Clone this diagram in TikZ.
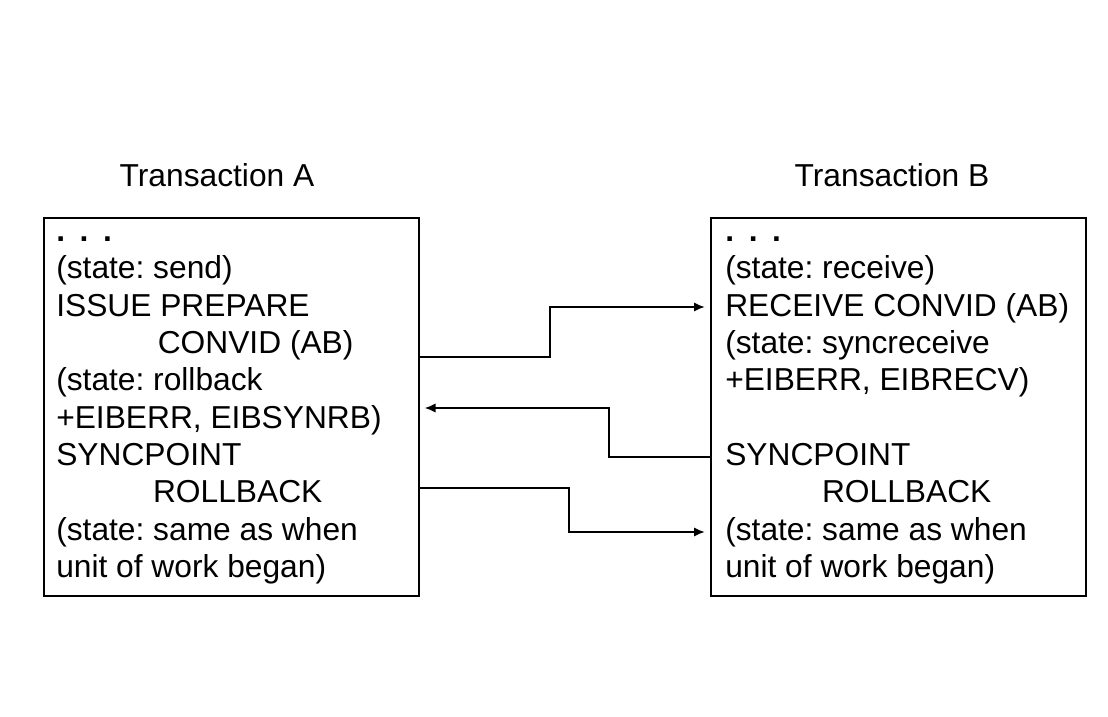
\documentclass[tikz,border=0pt]{standalone}
\usepackage{fontspec}
\setmainfont{Liberation Sans}
\usetikzlibrary{arrows.meta}
\frenchspacing

\begin{document}
\begin{tikzpicture}[x=0.75pt,y=-0.75pt]

      % One unit is one pixel of the original picture, y counts downwards
      \tikzstyle{txbox}=[draw, line width=1.4pt, minimum width=281pt, minimum height=283.5pt, inner sep=0pt, anchor=north west]
      \tikzstyle{listing}=[font=\fontsize{23.8pt}{28pt}\selectfont, align=left, inner sep=0pt, anchor=north west]
      \tikzstyle{heading}=[font=\fontsize{23.8pt}{28pt}\selectfont, inner sep=0pt, anchor=base]
      % The messages are thin lines with a small filled tip, stopping just short of the box
      \tikzstyle{msg}=[line width=1.1pt, -{Latex[length=8pt,width=7pt]}, shorten >=4pt]

      \def\ind{\hspace*{3.2em}}     % Indent of a continued command
      \def\dotrow{\strut\textbf{.}\hspace{11pt}\textbf{.}\hspace{11pt}\textbf{.}}

      \useasboundingbox (0,0) rectangle (1108,717);

      \node[heading] (titleA) at (217,186) {Transaction A};
      \node[heading] (titleB) at (892,186) {Transaction B};

      \node[txbox] (boxA) at (43,217) {};
      \node[txbox] (boxB) at (710,217) {};

      \node[listing] (textA) at (56,215) {\dotrow\\
            (state: send)\\
            ISSUE PREPARE\\
            \ind CONVID (AB)\\
            (state: rollback\\
            +EIBERR, EIBSYNRB)\\
            SYNCPOINT\\
            \hspace*{3.05em}ROLLBACK\\
            (state: same as when\\
            unit of work began)};

      \node[listing] (textB) at (725,215) {\dotrow\\
            (state: receive)\\
            RECEIVE CONVID (AB)\\
            (state: syncreceive\\
            +EIBERR, EIBRECV)\\[28pt]
            SYNCPOINT\\
            \hspace*{3.05em}ROLLBACK\\
            (state: same as when\\
            unit of work began)};

      \draw[msg] (boxA.east |- 0,357) -| (550,307) -- (boxB.west |- 0,307);   % prepare
      \draw[msg] (boxB.west |- 0,457) -| (609,408) -- (boxA.east |- 0,408);   % rollback sent back
      \draw[msg] (boxA.east |- 0,488) -| (569,532) -- (boxB.west |- 0,532);   % syncpoint rollback

\end{tikzpicture}
\end{document}
